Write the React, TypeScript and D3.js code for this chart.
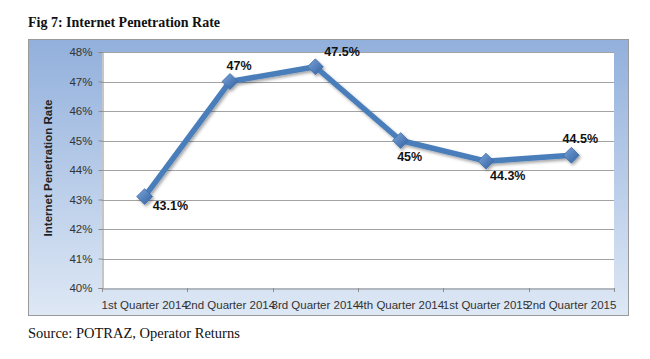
import * as d3 from "d3";
import React, { useEffect, useRef } from "react";

const quarters = [
  "1st Quarter 2014",
  "2nd Quarter 2014",
  "3rd Quarter 2014",
  "4th Quarter 2014",
  "1st Quarter 2015",
  "2nd Quarter 2015",
];
const penetration = [43.1, 47, 47.5, 45, 44.3, 44.5];
const labelSide = ["right", "above", "aboveRight", "below", "belowRight", "above"];
const yTicks = [40, 41, 42, 43, 44, 45, 46, 47, 48];

const W = 650;
const H = 359;
const BOX = { x: 28, y: 39, w: 600, h: 276 };
const PLOT = { left: 102, top: 52, right: 614, bottom: 288 };

// label offsets relative to the marker, like Excel's label positions
const LABEL_POS: Record<string, { dx: number; dy: number; anchor: string }> = {
  right: { dx: 8, dy: 13, anchor: "start" },
  above: { dx: 9, dy: -12, anchor: "middle" },
  aboveRight: { dx: 9, dy: -11, anchor: "start" },
  below: { dx: 9, dy: 20, anchor: "middle" },
  belowRight: { dx: 4, dy: 19, anchor: "start" },
};

const App: React.FC = () => {
  const svgRef = useRef<SVGSVGElement>(null);

  useEffect(() => {
    const svg = d3.select(svgRef.current);
    svg.selectAll("*").remove();

    const defs = svg.append("defs");
    const grad = defs
      .append("linearGradient")
      .attr("id", "bg")
      .attr("x1", 0)
      .attr("y1", 0)
      .attr("x2", 0)
      .attr("y2", 1);
    grad.append("stop").attr("offset", "0%").attr("stop-color", "#92b0dc");
    grad.append("stop").attr("offset", "100%").attr("stop-color", "#dee8f5");

    const mk = defs
      .append("linearGradient")
      .attr("id", "mk")
      .attr("x1", 0)
      .attr("y1", 0)
      .attr("x2", 1)
      .attr("y2", 1);
    mk.append("stop").attr("offset", "0%").attr("stop-color", "#7ea6dc");
    mk.append("stop").attr("offset", "100%").attr("stop-color", "#2f5f9e");

    const shadow = defs.append("filter").attr("id", "shadow");
    shadow
      .append("feDropShadow")
      .attr("dx", 1.5)
      .attr("dy", 2)
      .attr("stdDeviation", 1.5)
      .attr("flood-color", "#000")
      .attr("flood-opacity", 0.35);

    // title
    svg
      .append("text")
      .attr("x", 28)
      .attr("y", 27)
      .attr("font-family", "'Liberation Serif', 'Times New Roman', serif")
      .attr("font-weight", "bold")
      .attr("font-size", 14)
      .attr("fill", "#111")
      .text("Fig 7: Internet Penetration Rate");

    // chart box
    svg
      .append("rect")
      .attr("x", BOX.x + 0.5)
      .attr("y", BOX.y + 0.5)
      .attr("width", BOX.w)
      .attr("height", BOX.h)
      .attr("fill", "url(#bg)")
      .attr("stroke", "#9a9a9a");

    const x = d3
      .scaleBand()
      .domain(quarters)
      .range([PLOT.left, PLOT.right]);
    const y = d3
      .scaleLinear()
      .domain([40, 48])
      .range([PLOT.bottom, PLOT.top]);

    svg
      .append("rect")
      .attr("x", PLOT.left)
      .attr("y", PLOT.top)
      .attr("width", PLOT.right - PLOT.left)
      .attr("height", PLOT.bottom - PLOT.top)
      .attr("fill", "#fff");

    // gridlines
    svg
      .append("g")
      .selectAll("line")
      .data(yTicks.slice(1))
      .enter()
      .append("line")
      .attr("x1", PLOT.left)
      .attr("x2", PLOT.right)
      .attr("y1", (d) => Math.round(y(d)) + 0.5)
      .attr("y2", (d) => Math.round(y(d)) + 0.5)
      .attr("stroke", "#a3a3a3");

    const font = "'Liberation Sans', Arial, sans-serif";

    // y axis
    const yAxis = svg
      .append("g")
      .attr("transform", `translate(${PLOT.left + 0.5},0)`)
      .call(
        d3
          .axisLeft(y)
          .tickValues(yTicks)
          .tickSize(4)
          .tickPadding(6)
          .tickFormat((d) => `${d}%`)
      );
    yAxis.select(".domain").attr("stroke", "#8c8c8c");
    yAxis.selectAll(".tick line").attr("stroke", "#8c8c8c");
    yAxis
      .selectAll(".tick text")
      .attr("font-family", font)
      .attr("font-size", 11.5)
      .attr("fill", "#333");

    // x axis
    const xAxis = svg
      .append("g")
      .attr("transform", `translate(0,${PLOT.bottom + 0.5})`)
      .call(d3.axisBottom(x).tickSize(0).tickPadding(12));
    xAxis.select(".domain").attr("stroke", "#8c8c8c");
    xAxis
      .selectAll(".tick text")
      .attr("font-family", font)
      .attr("font-size", 11.5)
      .attr("fill", "#333");
    svg
      .append("g")
      .selectAll("line")
      .data(d3.range(quarters.length + 1))
      .enter()
      .append("line")
      .attr("x1", (i) => Math.round(PLOT.left + i * x.step()) + 0.5)
      .attr("x2", (i) => Math.round(PLOT.left + i * x.step()) + 0.5)
      .attr("y1", PLOT.bottom)
      .attr("y2", PLOT.bottom + 4)
      .attr("stroke", "#8c8c8c");

    // y title
    svg
      .append("text")
      .attr(
        "transform",
        `translate(52,${(PLOT.top + PLOT.bottom) / 2 - 2}) rotate(-90)`
      )
      .attr("text-anchor", "middle")
      .attr("font-family", font)
      .attr("font-weight", "bold")
      .attr("font-size", 11.5)
      .attr("fill", "#222")
      .text("Internet Penetration Rate");

    const cx = (i: number) => (x(quarters[i]) as number) + x.bandwidth() / 2;

    const line = d3
      .line<number>()
      .x((_, i) => cx(i))
      .y((d) => y(d));

    const g = svg.append("g").attr("filter", "url(#shadow)");
    g.append("path")
      .datum(penetration)
      .attr("d", line)
      .attr("fill", "none")
      .attr("stroke", "#4a7ebb")
      .attr("stroke-width", 5.5)
      .attr("stroke-linejoin", "round");

    g.selectAll("path.mark")
      .data(penetration)
      .enter()
      .append("path")
      .attr("class", "mark")
      .attr("d", d3.symbol(d3.symbolDiamond2, 160)())
      .attr("transform", (d, i) => `translate(${cx(i)},${y(d)})`)
      .attr("fill", "url(#mk)")
      .attr("stroke", "#3f6ca8")
      .attr("stroke-width", 0.8);

    svg
      .append("g")
      .selectAll("text")
      .data(penetration)
      .enter()
      .append("text")
      .attr("x", (_, i) => cx(i) + LABEL_POS[labelSide[i]].dx)
      .attr("y", (d, i) => y(d) + LABEL_POS[labelSide[i]].dy)
      .attr("text-anchor", (_, i) => LABEL_POS[labelSide[i]].anchor)
      .attr("font-family", font)
      .attr("font-weight", "bold")
      .attr("font-size", 12.5)
      .attr("fill", "#111")
      .text((d) => `${d}%`);

    // source
    svg
      .append("text")
      .attr("x", 28)
      .attr("y", 338)
      .attr("font-family", "'Liberation Serif', 'Times New Roman', serif")
      .attr("font-size", 14.5)
      .attr("fill", "#111")
      .text("Source: POTRAZ, Operator Returns");
  }, []);

  return (
    <svg
      ref={svgRef}
      width={W}
      height={H}
      style={{ position: "absolute", left: 0, top: 0, background: "#fff" }}
    />
  );
};

export default App;
